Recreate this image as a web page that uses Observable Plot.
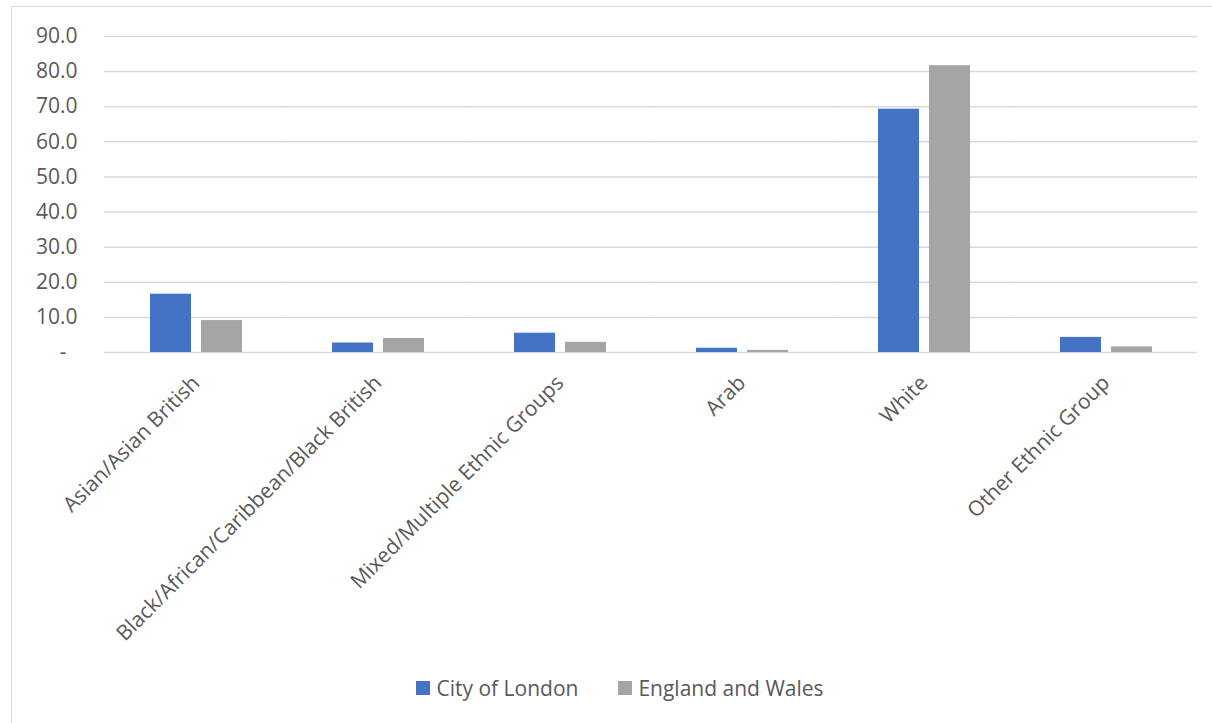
<!DOCTYPE html>
<html>
<head>
<meta charset="utf-8">
<script src="https://cdn.jsdelivr.net/npm/d3@7"></script>
<script src="https://cdn.jsdelivr.net/npm/@observablehq/plot@0.6"></script>
<style>
  html, body { margin: 0; padding: 0; background: #fff; }
  body { width: 1212px; height: 723px; overflow: hidden; position: relative; font-family: "Open Sans", "Noto Sans", sans-serif; }
  #frame { position: absolute; left: 11px; top: 6px; width: 1220px; height: 740px; border-left: 1.5px solid #d9d9d9; border-top: 1.5px solid #d9d9d9; }
  #chart { position: absolute; left: 0; top: 0; }
  #legend { position: absolute; left: 0; top: 674px; width: 1240px; display: flex; justify-content: center; gap: 40px; font-size: 21px; color: #595959; }
  .item { display: flex; align-items: center; gap: 6px; }
  .sw { width: 14px; height: 14px; display: inline-block; }
</style>
</head>
<body>
<div id="frame"></div>
<div id="chart"></div>
<div id="legend"></div>
<script>
const categories = ["Asian/Asian British", "Black/African/Caribbean/Black British", "Mixed/Multiple Ethnic Groups", "Arab", "White", "Other Ethnic Group"];
const seriesNames = ["City of London", "England and Wales"];
const cityOfLondon = [16.6, 2.7, 5.5, 1.2, 69.3, 4.3];
const englandAndWales = [9.1, 4.0, 2.9, 0.6, 81.7, 1.6];
const yTicks = [0, 10, 20, 30, 40, 50, 60, 70, 80, 90];
const colors = ["#4472C4", "#A5A5A5"];

const data = [];
categories.forEach((c, i) => {
  data.push({category: c, series: seriesNames[0], value: cityOfLondon[i]});
  data.push({category: c, series: seriesNames[1], value: englandAndWales[i]});
});

const plot = Plot.plot({
  width: 1212,
  height: 660,
  marginTop: 36,
  marginBottom: 308,
  marginLeft: 103,
  marginRight: 14,
  style: {fontFamily: "'Open Sans', 'Noto Sans', sans-serif", fontSize: "21px", color: "#595959", background: "transparent", overflow: "visible"},
  fx: {domain: categories, paddingInner: 0.49, paddingOuter: 0.245, label: null},
  x: {domain: seriesNames, paddingInner: 0.2, paddingOuter: 0, axis: null},
  y: {domain: [0, 90], label: null},
  color: {domain: seriesNames, range: colors},
  marks: [
    Plot.ruleY(yTicks, {stroke: "#d9d9d9", strokeWidth: 1.5, insetLeft: -45, insetRight: -45}),
    Plot.barY(data, {fx: "category", x: "series", y: "value", fill: "series"}),
    Plot.axisY(yTicks, {tickSize: 0, tickPadding: 72, tickFormat: d => d === 0 ? "-\u00a0\u00a0" : d.toFixed(1), fill: "#595959"}),
    Plot.axisFx({anchor: "bottom", tickSize: 0, tickPadding: 27, tickRotate: -45, fill: "#595959"})
  ]
});
document.getElementById("chart").appendChild(plot);

const legend = document.getElementById("legend");
seriesNames.forEach((s, i) => {
  const it = document.createElement("div");
  it.className = "item";
  const sw = document.createElement("span");
  sw.className = "sw";
  sw.style.background = colors[i];
  const t = document.createElement("span");
  t.textContent = s;
  it.appendChild(sw); it.appendChild(t);
  legend.appendChild(it);
});
</script>
</body>
</html>
